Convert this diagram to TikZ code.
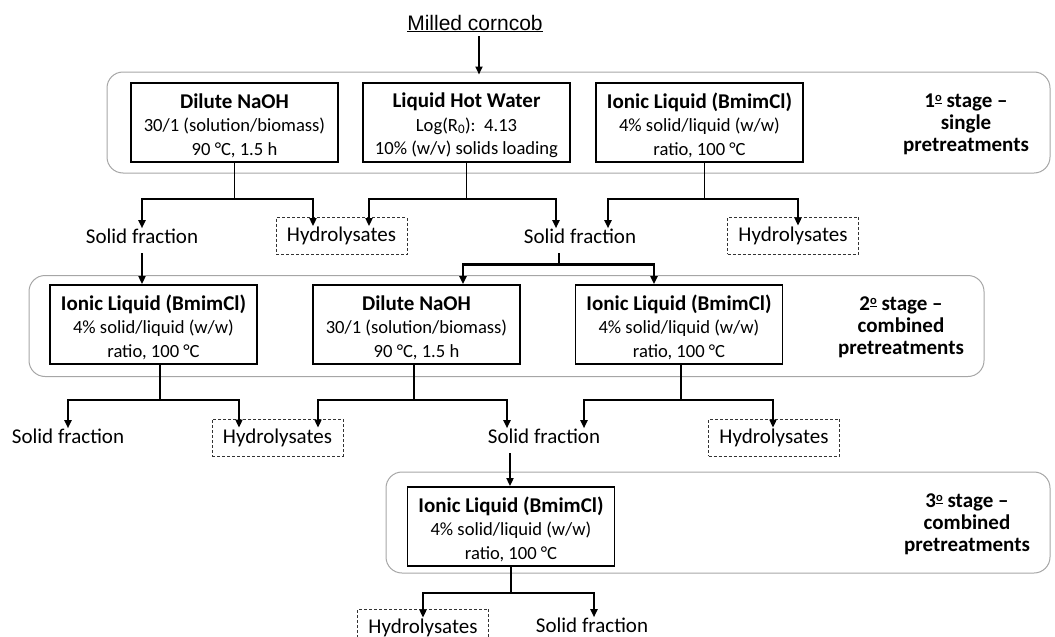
\documentclass[tikz,border=0pt]{standalone}
\usepackage{fontspec}
\setmainfont{Carlito}
\newfontfamily\arialfont{Liberation Sans}
\usetikzlibrary{arrows.meta}

\newcommand{\proctitle}[1]{{\bfseries\fontsize{21}{23.5}\selectfont\rule{0pt}{20.5pt}#1}}
\newcommand{\ordo}{\raisebox{5.5pt}{\fontsize{12.5}{12.5}\selectfont\underline{o}}}

\begin{document}
\begin{tikzpicture}[x=1pt, y=-1pt,
    proc/.style={draw, line width=1.8pt, minimum width=207pt, minimum height=79pt,
      inner sep=0pt, align=center, font=\fontsize{18.6}{23.5}\selectfont},
    stage/.style={draw=gray!70, line width=1pt, rounded corners=16pt,
      minimum height=101pt, inner sep=0pt},
    stagelabel/.style={align=center, font=\bfseries\fontsize{21}{22}\selectfont},
    hydro/.style={draw=black!80, dash pattern=on 3pt off 2pt, line width=0.8pt,
      minimum width=131pt, minimum height=37pt, inner sep=0pt,
      font=\fontsize{21}{24}\selectfont},
    frac/.style={anchor=base, inner sep=0pt, font=\fontsize{21}{24}\selectfont},
    link/.style={line width=1.8pt},
    arr/.style={link, -{Triangle[length=8pt,width=7pt]}},
    into/.style={shorten >=-9pt}]
  \useasboundingbox (0,0) rectangle (1055,637);

  % Stages (outer)
  \node[stage, minimum width=943pt] (stage1) at (578.5,122.5) {};
  \node[stage, minimum width=955pt] (stage2) at (506.5,326) {};
  \node[stage, minimum width=664pt] (stage3) at (718,522.5) {};
  \node[stagelabel] (lab1) at (966,124) {1\ordo{} stage –\\single\\pretreatments};
  \node[stagelabel] (lab2) at (901,327) {2\ordo{} stage –\\combined\\pretreatments};
  \node[stagelabel] (lab3) at (967,524) {3\ordo{} stage –\\combined\\pretreatments};

  % Feed
  \node[anchor=base, inner sep=0pt, font=\arialfont\fontsize{21}{24}\selectfont]
    (corncob) at (475,30) {\underline{Milled corncob}};
  \draw[arr, shorten >=-3pt] ([xshift=4pt,yshift=-4pt]corncob.south)
    -- ([xshift=4pt]corncob.south |- stage1.north);

  % Boxes (1st stage)
  \node[proc] (N1) at (234.5,122.5) {\proctitle{Dilute NaOH}\\30/1 (solution/biomass)\\90 °C, 1.5 h};
  \node[proc] (L1) at (466.5,122.5) {\proctitle{Liquid Hot Water}\\Log(R\textsubscript{0}):~~4.13\\10\% (w/v) solids loading};
  \node[proc] (I1) at (699.5,122.5) {\proctitle{Ionic Liquid (BmimCl)}\\4\% solid/liquid (w/w)\\ratio, 100 °C};

  \node[frac] (S1a) at (142,243) {Solid fraction};
  \node[hydro] (H1a) at (341.5,236) {Hydrolysates};
  \node[frac] (S1b) at (580,243) {Solid fraction};
  \node[hydro] (H1b) at (793,235.5) {Hydrolysates};

  % Arcs (1st stage)
  \draw[link] (N1.south) -- ++(0,36) coordinate (jN1);
  \draw[arr] (jN1) -| (S1a.north);
  \draw[arr, into] (jN1) -| ([xshift=-28.5pt]H1a.north);
  \draw[link] (L1.south) -- ++(0,36) coordinate (jL1);
  \draw[arr, into] (jL1) -| ([xshift=27.5pt]H1a.north);
  \draw[arr] (jL1) -| ([xshift=-24pt]S1b.north);
  \draw[link] ([xshift=5pt]I1.south) -- ++(0,36) coordinate (jI1);
  \draw[arr] (jI1) -| ([xshift=28pt]S1b.north);
  \draw[arr, into] (jI1) -| ([xshift=5pt]H1b.north);

  % Boxes (2nd stage)
  \node[proc] (I2a) at (153.5,324.5) {\proctitle{Ionic Liquid (BmimCl)}\\4\% solid/liquid (w/w)\\ratio, 100 °C};
  \node[proc] (N2) at (416.5,324.5) {\proctitle{Dilute NaOH}\\30/1 (solution/biomass)\\90 °C, 1.5 h};
  \node[proc] (I2b) at (679,324.5) {\proctitle{Ionic Liquid (BmimCl)}\\4\% solid/liquid (w/w)\\ratio, 100 °C};

  \draw[arr] ([yshift=-10pt]S1a.south) -- (S1a.south |- I2a.north);
  \draw[link, line width=2.6pt] ([xshift=-21pt,yshift=-10pt]S1b.south) -- ++(0,11) coordinate (jS1b);
  \draw[arr, line width=2.6pt] (jS1b) -| ([xshift=46.5pt]N2.north);
  \draw[arr, line width=2.6pt] (jS1b) -| ([xshift=-25pt]I2b.north);

  \node[frac] (S2a) at (68,443) {Solid fraction};
  \node[hydro] (H2a) at (277.5,437.5) {Hydrolysates};
  \node[frac] (S2b) at (544,443) {Solid fraction};
  \node[hydro] (H2b) at (774,437.5) {Hydrolysates};

  % Arcs (2nd stage)
  \draw[link] ([xshift=6.5pt]I2a.south) -- ++(0,35) coordinate (jI2a);
  \draw[arr] (jI2a) -| (S2a.north);
  \draw[arr, into] (jI2a) -| ([xshift=-38.5pt]H2a.north);
  \draw[link] ([xshift=-2.5pt]N2.south) -- ++(0,35) coordinate (jN2);
  \draw[arr, into] (jN2) -| ([xshift=40.5pt]H2a.north);
  \draw[arr] (jN2) -| ([xshift=-37pt]S2b.north);
  \draw[link] ([xshift=2pt]I2b.south) -- ++(0,35) coordinate (jI2b);
  \draw[arr] (jI2b) -| ([xshift=40pt]S2b.north);
  \draw[arr, into] (jI2b) -| ([xshift=-1pt]H2b.north);

  % Box (3rd stage)
  \node[proc] (I3) at (511,526.5) {\proctitle{Ionic Liquid (BmimCl)}\\4\% solid/liquid (w/w)\\ratio, 100 °C};
  \draw[arr] ([xshift=-34pt,yshift=-10pt]S2b.south) -- ([xshift=-34pt]S2b.south |- I3.north);

  \node[hydro] (H3) at (423,627.5) {Hydrolysates};
  \node[frac] (S3) at (592,632) {Solid fraction};

  % Arcs (3rd stage)
  \draw[link] (I3.south) -- ++(0,26) coordinate (jI3);
  \draw[arr, into] (jI3) -| (H3.north);
  \draw[arr] (jI3) -| ([xshift=2pt]S3.north);
\end{tikzpicture}
\end{document}
